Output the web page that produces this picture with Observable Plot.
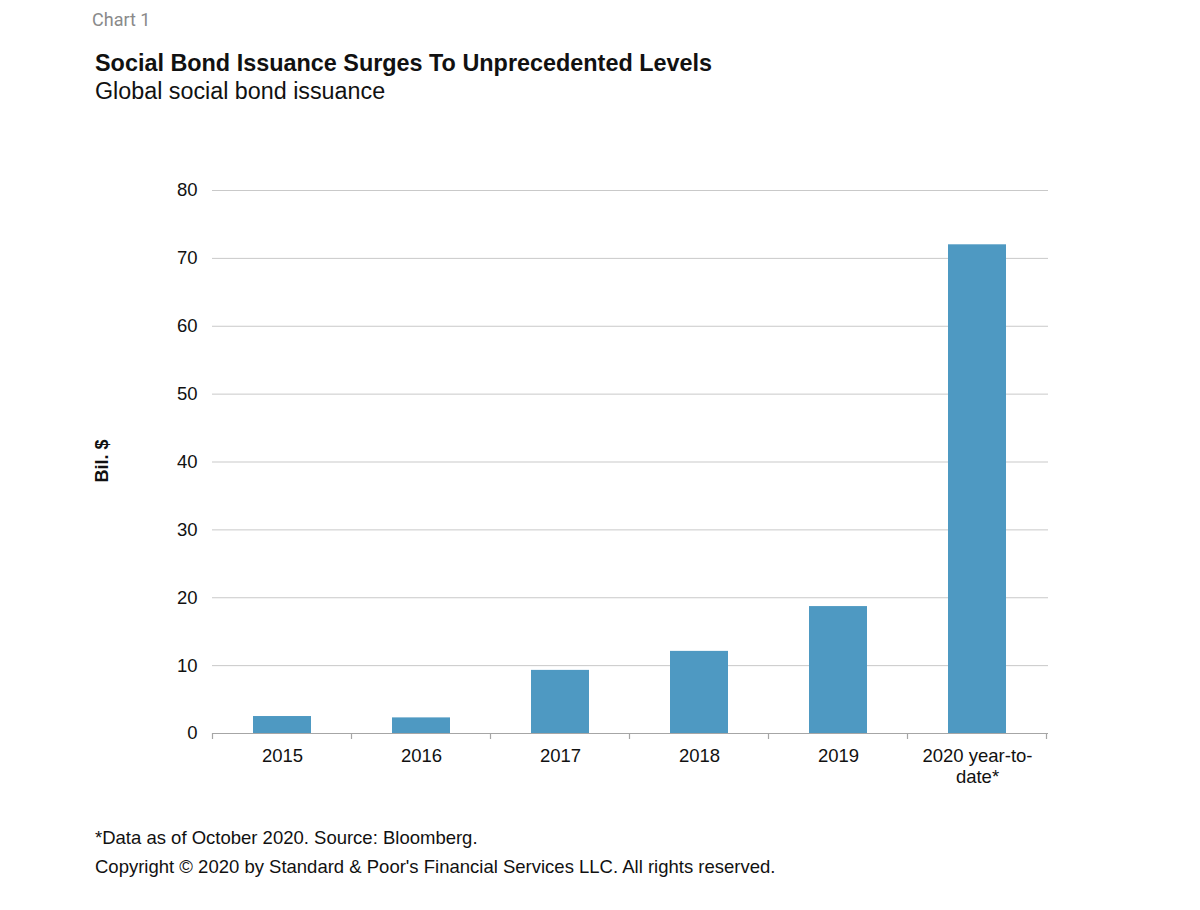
<!DOCTYPE html>
<html>
<head>
<meta charset="utf-8">
<script src="https://cdn.jsdelivr.net/npm/d3@7"></script>
<script src="https://cdn.jsdelivr.net/npm/@observablehq/plot@0.6"></script>
<style>
  html, body { margin: 0; padding: 0; background: #fff; }
  body { width: 1200px; height: 910px; position: relative; font-family: "Liberation Sans", Arial, sans-serif; color: #111; }
  .abs { position: absolute; white-space: nowrap; z-index: 2; }
  #kicker { left: 92px; top: 9px; font-family: Roboto, "Liberation Sans", sans-serif; font-size: 18px; color: #8a8a8a; }
  #title { left: 95px; top: 50px; font-size: 23.4px; font-weight: bold; }
  #subtitle { left: 95px; top: 78px; font-size: 23.3px; }
  #ylabel { left: 102px; top: 461px; font-size: 18px; font-weight: bold; transform: translate(-50%, -50%) rotate(-90deg); }
  #note { left: 95px; top: 827px; font-size: 18.5px; }
  #copy { left: 95px; top: 856px; font-size: 18.5px; }
  #chart { position: absolute; left: 0; top: 150px; z-index: 1; }
</style>
</head>
<body>
<div id="chart"></div>
<div id="kicker" class="abs">Chart 1</div>
<div id="title" class="abs">Social Bond Issuance Surges To Unprecedented Levels</div>
<div id="subtitle" class="abs">Global social bond issuance</div>
<div id="ylabel" class="abs">Bil. $</div>
<div id="note" class="abs">*Data as of October 2020. Source: Bloomberg.</div>
<div id="copy" class="abs">Copyright © 2020 by Standard &amp; Poor's Financial Services LLC. All rights reserved.</div>
<script>
const categories = ["2015", "2016", "2017", "2018", "2019", "2020 year-to-date*"];
const tickLabels = ["2015", "2016", "2017", "2018", "2019", "2020 year-to-\ndate*"];
const values = [2.5, 2.3, 9.3, 12.1, 18.7, 72.0];
const yTicks = [0, 10, 20, 30, 40, 50, 60, 70, 80];

const data = categories.map((c, i) => ({category: c, value: values[i]}));
const labelOf = new Map(categories.map((c, i) => [c, tickLabels[i]]));

const plot = Plot.plot({
  width: 1200,
  height: 660,
  marginTop: 40,
  marginBottom: 77,
  marginLeft: 212,
  marginRight: 152,
  style: {fontFamily: "'Liberation Sans', Arial, sans-serif", fontSize: "18.5px", color: "#111", background: "transparent"},
  x: {domain: categories, paddingInner: 0.58, paddingOuter: 0.29, label: null},
  y: {domain: [0, 80], label: null},
  marks: [
    Plot.gridY(yTicks, {stroke: "#c9c9c9", strokeOpacity: 1, strokeWidth: 1}),
    Plot.axisY(yTicks, {tickSize: 0, tickPadding: 15, fontSize: 18.5, label: null}),
    Plot.axisX({tickSize: 0, tickPadding: 13, fontSize: 18.5, label: null, tickFormat: d => labelOf.get(d), lineHeight: 1.15}),
    Plot.barY(data, {x: "category", y: "value", fill: "#4e99c2"}),
    Plot.ruleY([0], {stroke: "#a6a6a6", strokeWidth: 1.2})
  ]
});
document.getElementById("chart").appendChild(plot);

// category separator ticks on the x axis, at band edges, from Plot's own x scale
const xs = plot.scale("x");
const ys = plot.scale("y");
const step = xs.step;
const first = xs.apply(categories[0]) - (step - xs.bandwidth) / 2;
const edges = d3.range(categories.length + 1).map(i => first + i * step);
const y0 = ys.apply(0);
d3.select(plot).append("g")
  .attr("stroke", "#a6a6a6")
  .attr("stroke-width", 1.2)
  .selectAll("line")
  .data(edges)
  .join("line")
  .attr("x1", d => d).attr("x2", d => d)
  .attr("y1", y0).attr("y2", y0 + 6);
</script>
</body>
</html>
